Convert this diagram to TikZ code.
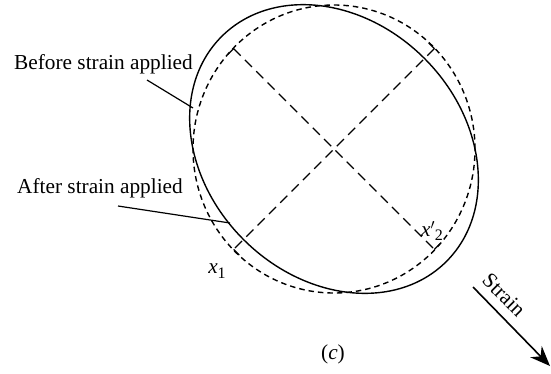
\documentclass[tikz,border=0pt]{standalone}
\usepackage{fontspec}
\setmainfont{Liberation Serif}
\usetikzlibrary{arrows.meta}
\begin{document}
\begin{tikzpicture}[x=1pt,y=-1pt,
  lbl/.style={inner sep=0pt,font=\fontsize{21.3}{25}\selectfont},
  solidcurve/.style={line width=1.4pt},
  dashcurve/.style={line width=1.4pt,dash pattern=on 5.5pt off 4pt},
  diam/.style={line width=1.2pt,dash pattern=on 10pt off 6pt},
  tick/.style={line width=1.2pt},
  leader/.style={line width=1.2pt}]
\useasboundingbox (0,0) rectangle (551,373);
\coordinate (C) at (334,149);
% before strain (dashed) and after strain (solid)
\draw[dashcurve] (C) ellipse [x radius=141pt, y radius=144pt];
\draw[solidcurve, rotate around={-45:(C)}] (C) ellipse [x radius=159pt, y radius=128pt];
% diameters
\coordinate (anw) at (233.6,48.6);
\coordinate (ase) at (434.4,249.4);
\coordinate (bne) at (434.4,48.6);
\coordinate (bsw) at (233.6,249.4);
\draw[diam] (anw) -- (ase);
\draw[diam] (bne) -- (bsw);
\draw[tick] (anw) -- ++(-5.7,5.7);
\draw[tick] (bne) -- ++(-5.7,-5.7);
\draw[tick] (ase) -- ++(5.7,-5.7);
\draw[tick] (bsw) -- ++(5.7,5.7);
% labels
\node[lbl, anchor=base west] (before) at (14,69) {Before strain applied};
\node[lbl, anchor=base west] (after) at (17,193) {After strain applied};
\coordinate (bl1) at (147,80);
\coordinate (bl2) at (193,108);
\coordinate (al1) at (118,206);
\coordinate (al2) at (230,223);
\draw[leader] (bl1) -- (bl2);
\draw[leader] (al1) -- (al2);
\node[lbl] (x1) at (217,271) {\textit{x}\raisebox{-0.45ex}{\fontsize{16}{16}\selectfont 1}};
\node[lbl] (x2) at (432,231) {\textit{x}$'$\raisebox{-0.45ex}{\fontsize{16}{16}\selectfont 2}};
\node[lbl] (c) at (333,354) {(\textit{c})};
% strain arrow
\coordinate (s1) at (473,287);
\coordinate (s2) at (550,366);
\draw[line width=1.6pt, -{Stealth[length=20pt,width=16pt]}] (s1) -- (s2);
\node[lbl, rotate=-45] (strain) at (504,295) {Strain};
\end{tikzpicture}
\end{document}
